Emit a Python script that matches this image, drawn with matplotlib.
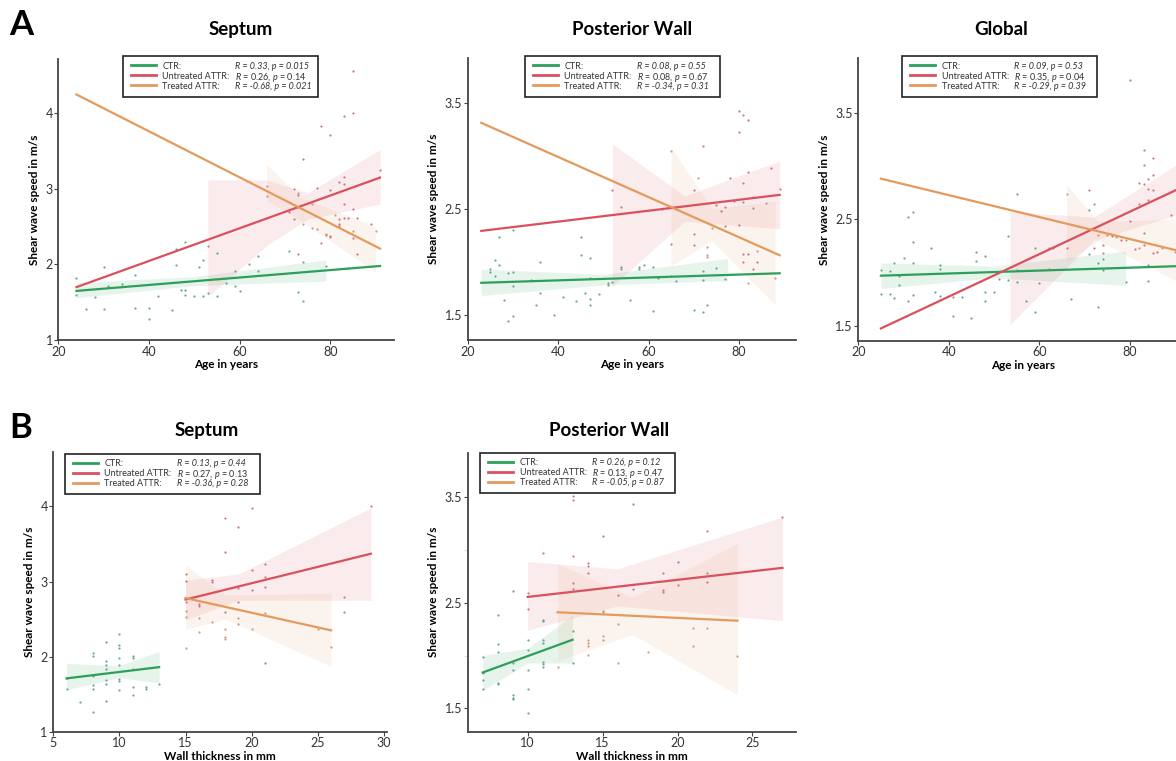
import numpy as np
import matplotlib
matplotlib.use("Agg")
import matplotlib.pyplot as plt
from matplotlib.lines import Line2D
from matplotlib.patches import Rectangle

plt.rcParams['font.family'] = ['Lato', 'DejaVu Sans']
plt.rcParams['mathtext.fontset'] = 'custom'
plt.rcParams['mathtext.it'] = 'Lato:italic'
plt.rcParams['mathtext.rm'] = 'Lato'

groups = ['CTR:', 'Untreated ATTR:', 'Treated ATTR:']
line_colors = ['#2ca05a', '#d9505e', '#e39a5c']
dot_colors = ['#5a9a8c', '#c4687e', '#c98f72']

# ---- A: septum vs age
sep_age_ctr_x = [24, 24, 26, 28, 30, 30, 31, 34, 37, 37, 40, 40, 42, 45, 46, 46, 47, 48, 48, 48,
                 50, 51, 52, 52, 53, 55, 55, 57, 59, 59, 60, 62, 64, 64, 71, 73, 74, 74, 79]
sep_age_ctr_y = [1.82, 1.59, 1.41, 1.57, 1.96, 1.41, 1.72, 1.74, 1.86, 1.43, 1.42, 1.28, 1.58, 1.40, 1.99,
                 2.21, 1.66, 2.30, 1.60, 1.66, 1.58, 1.97, 2.06, 1.58, 1.62, 2.15, 1.58, 1.75, 1.91, 1.72,
                 1.65, 2.01, 1.91, 2.11, 2.18, 1.64, 2.03, 1.51, 1.98]
sep_age_unt_x = [85, 85, 83, 78, 80, 74, 83, 91, 82, 83, 77, 72, 73, 80, 83, 85, 71, 72, 82, 83,
                 84, 86, 82, 82, 89, 79, 80, 85, 78, 86, 84, 73, 53]
sep_age_unt_y = [4.56, 4.01, 3.96, 3.83, 3.72, 3.39, 3.16, 3.25, 3.09, 3.07, 3.01, 3.00, 2.92, 2.98, 2.80,
                 2.73, 2.70, 2.60, 2.60, 2.61, 2.61, 2.61, 2.54, 2.51, 2.53, 2.39, 2.38, 2.35, 2.28, 2.14,
                 1.95, 2.14, 2.24]
sep_age_trt_x = [66, 66, 73, 76, 76, 74, 81, 85, 90, 80, 77, 79]
sep_age_trt_y = [3.04, 2.90, 2.94, 2.80, 2.48, 2.53, 2.65, 2.44, 2.44, 2.37, 2.47, 2.40]
# fitted lines: x0, x1, y0, y1
sep_age_fits = [(24, 91, 1.65, 1.98), (24, 91, 1.70, 3.15), (24, 91, 4.25, 2.21)]
# confidence bands: x, lower, upper
sep_age_bands = [([24, 50, 79], [1.56, 1.72, 1.78], [1.76, 1.84, 2.06]),
                 ([53, 66, 75, 91], [1.57, 2.25, 2.60, 2.80], [3.12, 3.12, 2.95, 3.52]),
                 ([66, 73, 90], [2.85, 2.60, 1.90], [3.33, 2.90, 2.50])]
sep_age_r = ['0.33', '0.26', '-0.68']
sep_age_p = ['0.015', '0.14', '0.021']

# ---- A: posterior wall vs age
pw_age_ctr_x = [25, 25, 26, 26, 27, 27, 28, 29, 29, 30, 30, 30, 30, 34, 35, 36, 36, 39, 41, 44,
                45, 45, 46, 47, 47, 47, 47, 49, 51, 51, 52, 54, 54, 56, 58, 58, 59, 61, 61, 62,
                65, 66, 70, 72, 72, 72, 73, 75, 77]
pw_age_ctr_y = [1.93, 1.90, 2.02, 1.86, 1.97, 2.23, 1.64, 1.89, 1.44, 2.30, 1.90, 1.77, 1.49, 1.83, 1.59,
                2.00, 1.70, 1.50, 1.67, 1.63, 2.23, 2.06, 1.70, 2.03, 1.85, 1.65, 1.59, 1.69, 1.80, 1.78,
                1.81, 1.95, 1.93, 1.64, 1.95, 1.93, 1.97, 1.53, 1.95, 1.85, 1.86, 1.82, 1.54, 1.52, 1.83,
                1.91, 1.59, 1.94, 1.84]
pw_age_unt_x = [80, 81, 82, 80, 72, 87, 82, 78, 81, 70, 52, 89, 83, 81, 79, 75, 77, 76, 54, 63,
                83, 80, 77, 70, 70, 81, 82, 81, 83, 84, 65]
pw_age_unt_y = [3.42, 3.38, 3.34, 3.22, 3.09, 2.88, 2.85, 2.79, 2.74, 2.68, 2.68, 2.69, 2.61, 2.56, 2.57,
                2.53, 2.52, 2.48, 2.52, 2.50, 2.51, 2.35, 2.34, 2.16, 2.26, 2.07, 2.07, 2.00, 1.93, 2.00,
                2.17]
pw_age_trt_x = [65, 71, 74, 73, 73, 73, 84, 88, 82, 66, 86]
pw_age_trt_y = [3.04, 2.79, 2.32, 2.14, 2.06, 2.04, 2.10, 1.85, 1.80, 2.50, 2.55]
pw_age_fits = [(23, 89, 1.80, 1.89), (23, 89, 2.29, 2.63), (23, 89, 3.31, 2.06)]
pw_age_bands = [([23, 50, 77.5], [1.68, 1.78, 1.82], [1.93, 1.88, 2.03]),
                ([52, 68, 89], [1.77, 2.38, 2.31], [3.11, 2.62, 2.95]),
                ([65, 74, 88], [1.96, 2.20, 1.59], [3.08, 2.50, 2.57])]
pw_age_r = ['0.08', '0.08', '-0.34']
pw_age_p = ['0.55', '0.67', '0.31']

# ---- A: global vs age
gl_age_ctr_x = [25, 25, 27, 27, 28, 28, 29, 29, 30, 31, 31, 32, 32, 32, 32, 36, 37, 38, 38, 38,
                41, 41, 43, 45, 46, 46, 48, 48, 48, 50, 51, 53, 53, 55, 55, 55, 57, 59, 59, 60,
                62, 63, 62, 67, 71, 71, 73, 73, 74, 74, 79, 84, 84]
gl_age_ctr_y = [2.02, 1.80, 2.01, 1.80, 2.09, 1.76, 1.97, 1.88, 2.14, 2.52, 1.73, 2.57, 2.29, 2.09, 1.79,
                2.23, 1.82, 2.07, 2.03, 1.78, 1.77, 1.59, 1.77, 1.57, 2.19, 2.11, 2.15, 1.82, 1.73, 1.82,
                1.94, 2.34, 1.93, 2.74, 2.02, 1.91, 1.73, 1.63, 2.23, 1.90, 2.23, 2.23, 2.03, 1.75, 2.59,
                2.17, 1.68, 2.09, 2.13, 2.02, 1.91, 2.07, 1.92]
gl_age_unt_x = [80, 83, 85, 83, 85, 82, 83, 84, 84, 85, 84, 82, 89, 80, 83, 83, 85, 86, 81, 78,
                76, 74, 72, 71, 72, 66, 74]
gl_age_unt_y = [3.81, 3.15, 3.07, 3.01, 2.91, 2.84, 2.83, 2.88, 2.78, 2.77, 2.68, 2.64, 2.54, 2.48, 2.37,
                2.26, 2.18, 2.19, 2.22, 2.30, 2.34, 2.26, 2.23, 2.77, 2.64, 2.23, 2.18]
gl_age_trt_x = [66, 73, 75, 77, 79, 82, 87, 90]
gl_age_trt_y = [2.74, 2.35, 2.35, 2.33, 2.30, 2.23, 2.23, 2.19]
gl_age_fits = [(25, 91, 1.97, 2.06), (25, 91, 1.475, 2.79), (25, 91, 2.88, 2.20)]
gl_age_bands = [([25, 50, 79], [1.85, 1.95, 1.88], [2.09, 2.06, 2.20]),
                ([53.5, 72, 91], [1.51, 2.30, 2.55], [2.57, 2.52, 3.03]),
                ([66, 73, 91], [2.10, 2.30, 1.90], [2.82, 2.48, 2.50])]
gl_age_r = ['0.09', '0.35', '-0.29']
gl_age_p = ['0.53', '0.04', '0.39']

# ---- B: septum vs wall thickness
sep_wt_ctr_x = [6, 6, 7, 8, 8, 8, 8, 8, 8, 9, 9, 9, 9, 9, 9, 9, 10, 10, 10, 10,
                10, 10, 10, 10, 11, 11, 11, 11, 11, 12, 12, 13]
sep_wt_ctr_y = [1.71, 1.57, 1.39, 2.05, 2.01, 1.74, 1.62, 1.57, 1.26, 2.20, 1.94, 1.89, 1.83, 1.69, 1.64,
                1.41, 2.30, 2.16, 2.11, 1.98, 1.89, 1.70, 1.68, 1.56, 2.01, 1.98, 1.84, 1.59, 1.49, 1.60,
                1.57, 1.64]
sep_wt_unt_x = [29, 20, 18, 19, 18, 21, 20, 15, 15, 17, 17, 21, 19, 20, 21, 16, 16, 27, 27, 15,
                18, 19, 21]
sep_wt_unt_y = [4.01, 3.98, 3.84, 3.73, 3.39, 3.24, 3.16, 3.10, 3.01, 3.02, 2.99, 3.06, 2.91, 2.89, 2.93,
                2.70, 2.67, 2.80, 2.60, 2.73, 2.60, 2.73, 1.92]
sep_wt_trt_x = [15, 15, 16, 17, 16, 18, 18, 18, 19, 19, 20, 21, 25, 26, 15]
sep_wt_trt_y = [2.61, 2.53, 2.51, 2.46, 2.33, 2.37, 2.26, 2.23, 2.51, 2.43, 2.37, 2.58, 2.37, 2.13, 2.12]
sep_wt_fits = [(6, 13, 1.71, 1.86), (15, 29, 2.76, 3.37), (15, 26, 2.78, 2.35)]
sep_wt_bands = [([6, 10, 13], [1.56, 1.72, 1.65], [1.91, 1.88, 2.07]),
                ([15, 19, 29], [2.49, 2.75, 2.75], [3.02, 3.10, 3.98]),
                ([15, 18, 26], [2.36, 2.50, 1.87], [3.22, 2.82, 2.84])]
sep_wt_r = ['0.13', '0.27', '-0.36']
sep_wt_p = ['0.44', '0.13', '0.28']

# ---- B: posterior wall vs wall thickness
pw_wt_ctr_x = [7, 7, 7, 7, 8, 8, 8, 8, 8, 9, 9, 9, 9, 9, 9, 10, 10, 10, 10, 10,
               11, 11, 11, 11, 11, 11, 11, 13, 13]
pw_wt_ctr_y = [1.99, 1.84, 1.77, 1.68, 2.38, 2.11, 2.03, 1.74, 1.73, 2.61, 1.93, 1.86, 1.63, 1.60, 1.59,
               2.15, 2.05, 1.86, 1.68, 1.46, 2.34, 2.33, 2.15, 2.12, 1.94, 1.92, 1.89, 2.23, 1.93]
pw_wt_unt_x = [13, 13, 17, 15, 22, 27, 11, 13, 14, 14, 14, 20, 19, 22, 22, 13, 13, 17, 19, 19,
               16, 20, 10, 10]
pw_wt_unt_y = [3.51, 3.47, 3.43, 3.13, 3.18, 3.31, 2.97, 2.94, 2.88, 2.85, 2.78, 2.89, 2.78, 2.78, 2.70,
               2.69, 2.63, 2.63, 2.62, 2.60, 2.57, 2.67, 2.59, 2.44]
pw_wt_trt_x = [15, 15, 16, 15, 15, 14, 14, 14, 14, 16, 18, 21, 21, 22, 24, 12]
pw_wt_trt_y = [2.42, 2.41, 2.30, 2.19, 2.15, 2.15, 2.12, 2.09, 2.01, 1.93, 2.03, 2.26, 2.09, 2.26, 2.00, 1.89]
pw_wt_fits = [(7, 13, 1.84, 2.15), (10, 27, 2.555, 2.83), (12, 24, 2.41, 2.33)]
pw_wt_bands = [([7, 10, 13], [1.67, 1.93, 1.93], [2.00, 2.07, 2.38]),
               ([10, 16, 27], [2.24, 2.47, 2.33], [2.89, 2.82, 3.31]),
               ([12, 17, 24], [1.95, 2.20, 1.63], [2.87, 2.55, 3.06])]
pw_wt_r = ['0.26', '0.13', '-0.05']
pw_wt_p = ['0.12', '0.47', '0.87']

W, H = 1176, 761
fig = plt.figure(figsize=(W / 100, H / 100), dpi=100)


def px(x, y):
    # pixel position (from top-left) -> figure fraction
    return x / W, 1 - y / H


def stats_box(left, top, rvals, pvals, height=41, first=9.3):
    x0, y0 = px(left, top + height)
    fig.add_artist(Rectangle((x0, y0), 195 / W, height / H, transform=fig.transFigure,
                             facecolor='white', edgecolor='#222222', lw=1.2, zorder=5))
    for i in range(3):
        yy = top + first + i * 10
        xa, ya = px(left + 8, yy)
        xb, _ = px(left + 33, yy)
        fig.add_artist(Line2D([xa, xb], [ya, ya], color=line_colors[i], lw=2,
                              transform=fig.transFigure, zorder=6))
        fig.text(px(left + 39.5, 0)[0], ya, groups[i], fontsize=6.5, color='#333333',
                 va='center_baseline', zorder=6)
        if i == 1:
            s = r'$R$ = ' + rvals[i] + r', $p$ = ' + pvals[i]
            fig.text(px(left + 112, 0)[0], ya, s, fontsize=6.5, color='#333333',
                     va='center_baseline', zorder=6)
        else:
            s = 'R = ' + rvals[i] + ', p = ' + pvals[i]
            fig.text(px(left + 112, 0)[0], ya, s, fontsize=6.5, color='#333333', style='italic',
                     va='center_baseline', zorder=6)


def draw_panel(ax, pts, fits, bands, xlim, ylim, xticks, yticks, xlabel):
    for i in range(3):
        bx, lo, hi = bands[i]
        ax.fill_between(bx, lo, hi, color=line_colors[i], alpha=0.11, lw=0, zorder=1)
    for i in range(3):
        x, y = pts[i]
        ax.scatter(x, y, s=2.5, color=dot_colors[i], lw=0, alpha=0.9, zorder=2)
    for i in range(3):
        x0, x1, y0, y1 = fits[i]
        ax.plot([x0, x1], [y0, y1], color=line_colors[i], lw=1.6, zorder=3)

    ax.set_xlim(xlim)
    ax.set_ylim(ylim)
    ax.set_xticks(xticks)
    ax.set_yticks(yticks)
    ax.set_yticklabels([f'{t:g}' for t in yticks])
    for s in ['top', 'right']:
        ax.spines[s].set_visible(False)
    for s in ['left', 'bottom']:
        ax.spines[s].set_color('#444444')
        ax.spines[s].set_linewidth(1.3)
    ax.tick_params(labelsize=9, length=3, width=0.8, colors='#444444', labelcolor='#333333', pad=1)
    ax.set_xlabel(xlabel, fontsize=8.5, fontweight='bold', labelpad=1)
    ax.set_ylabel('Shear wave speed in m/s', fontsize=8.5, fontweight='bold', labelpad=4)


ax1 = fig.add_axes([0.0496, 0.5532, 0.2855, 0.3693])
draw_panel(ax1, [(sep_age_ctr_x, sep_age_ctr_y), (sep_age_unt_x, sep_age_unt_y), (sep_age_trt_x, sep_age_trt_y)],
           sep_age_fits, sep_age_bands, (20, 94.1), (1, 4.72),
           [20, 40, 60, 80], [1, 2, 3, 4], 'Age in years')
stats_box(123, 56, sep_age_r, sep_age_p)

ax2 = fig.add_axes([0.3977, 0.5532, 0.2791, 0.3703])
draw_panel(ax2, [(pw_age_ctr_x, pw_age_ctr_y), (pw_age_unt_x, pw_age_unt_y), (pw_age_trt_x, pw_age_trt_y)],
           pw_age_fits, pw_age_bands, (20, 92.6), (1.26, 3.92),
           [20, 40, 60, 80], [1.5, 2.5, 3.5], 'Age in years')
stats_box(525, 56, pw_age_r, pw_age_p)

ax3 = fig.add_axes([0.7298, 0.5523, 0.2812, 0.3712])
draw_panel(ax3, [(gl_age_ctr_x, gl_age_ctr_y), (gl_age_unt_x, gl_age_unt_y), (gl_age_trt_x, gl_age_trt_y)],
           gl_age_fits, gl_age_bands, (20, 93), (1.36, 4.01),
           [20, 40, 60, 80], [1.5, 2.5, 3.5], 'Age in years')
stats_box(902, 56, gl_age_r, gl_age_p)

ax4 = fig.add_axes([0.0453, 0.0385, 0.2835, 0.368])
draw_panel(ax4, [(sep_wt_ctr_x, sep_wt_ctr_y), (sep_wt_unt_x, sep_wt_unt_y), (sep_wt_trt_x, sep_wt_trt_y)],
           sep_wt_fits, sep_wt_bands, (5, 30.2), (1, 4.73),
           [5, 10, 15, 20, 25, 30], [1, 2, 3, 4], 'Wall thickness in mm')
stats_box(65, 454, sep_wt_r, sep_wt_p, height=40, first=8.7)

ax5 = fig.add_axes([0.3977, 0.0385, 0.2791, 0.3667])
draw_panel(ax5, [(pw_wt_ctr_x, pw_wt_ctr_y), (pw_wt_unt_x, pw_wt_unt_y), (pw_wt_trt_x, pw_wt_trt_y)],
           pw_wt_fits, pw_wt_bands, (6, 27.9), (1.28, 3.92),
           [10, 15, 20, 25], [1.5, 2.5, 3.5], 'Wall thickness in mm')
ax5.set_yticks([2, 3], minor=True)
ax5.tick_params(which='minor', length=3, width=0.8, colors='#dddddd')
stats_box(480, 453, pw_wt_r, pw_wt_p, height=40, first=8.7)

# panel titles and letters
fig.text(0.205, 0.9606, 'Septum', fontsize=13.5, fontweight='bold', ha='center', va='center')
fig.text(0.5374, 0.9606, 'Posterior Wall', fontsize=13.5, fontweight='bold', ha='center', va='center')
fig.text(0.851, 0.9606, 'Global', fontsize=13.5, fontweight='bold', ha='center', va='center')
fig.text(0.1758, 0.434, 'Septum', fontsize=13.5, fontweight='bold', ha='center', va='center')
fig.text(0.518, 0.434, 'Posterior Wall', fontsize=13.5, fontweight='bold', ha='center', va='center')
fig.text(0.008, 0.967, 'A', fontsize=25, fontweight='bold', ha='left', va='center')
fig.text(0.008, 0.437, 'B', fontsize=25, fontweight='bold', ha='left', va='center')

fig.savefig('out.png', dpi=100)
